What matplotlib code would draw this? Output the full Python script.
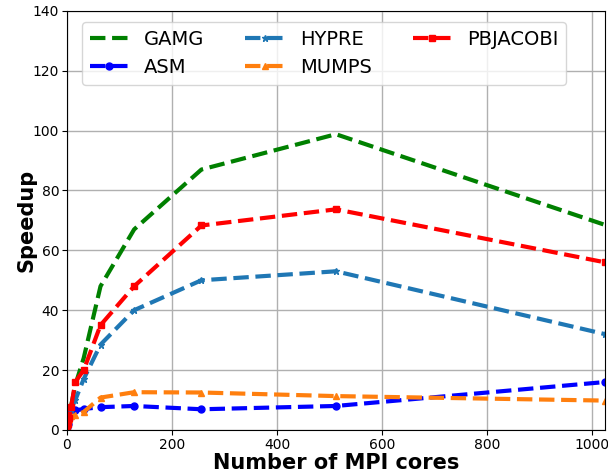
import matplotlib
matplotlib.use("Agg")
import matplotlib.pyplot as plt

cores = [1, 2, 4, 8, 16, 32, 64, 128, 256, 512, 1024]
gamg = [1, 2, 4, 8, 15, 24, 48, 67, 87, 98.8, 68.5]
asm = [1, 2, 4, 6, 6.5, 7, 7.6, 8.0, 6.9, 8.0, 16]
hypre = [1, 2, 4, 7, 10, 17, 28.5, 40, 50, 53, 32]
mumps = [1, 2, 3.5, 4.5, 5, 6, 10.8, 12.6, 12.5, 11.3, 9.8]
pbjacobi = [1, 2, 4, 7.5, 16, 20, 35, 48, 68.3, 73.7, 56]

series = [
    ("GAMG", gamg, "g", None),
    ("ASM", asm, "b", "o"),
    ("HYPRE", hypre, "tab:blue", "*"),
    ("MUMPS", mumps, "tab:orange", "^"),
    ("PBJACOBI", pbjacobi, "r", "s"),
]

fig, ax = plt.subplots(figsize=(6.08, 4.74), dpi=100)
fig.subplots_adjust(left=0.110, right=0.995, top=0.977, bottom=0.093)

for name, vals, color, marker in series:
    ax.plot(cores, vals, linestyle="--", linewidth=3, color=color,
            marker=marker, markersize=5, label=name)

ax.set_xlim(0, 1024)
ax.set_ylim(0, 140)
ax.set_xticks([0, 200, 400, 600, 800, 1000])
ax.tick_params(labelsize=10, pad=2)
ax.set_xlabel("Number of MPI cores", fontsize=15, fontweight="bold")
ax.set_ylabel("Speedup", fontsize=15, fontweight="bold")
ax.xaxis.set_label_coords(0.5, -0.055)
ax.yaxis.set_label_coords(-0.056, 0.5)
ax.grid(True, color="#b0b0b0", linewidth=1)
ax.legend(loc="upper left", bbox_to_anchor=(0.028, 0.974), borderaxespad=0,
          ncol=3, fontsize=14, handlelength=2, columnspacing=2.1)

fig.savefig("out.png", dpi=100)
